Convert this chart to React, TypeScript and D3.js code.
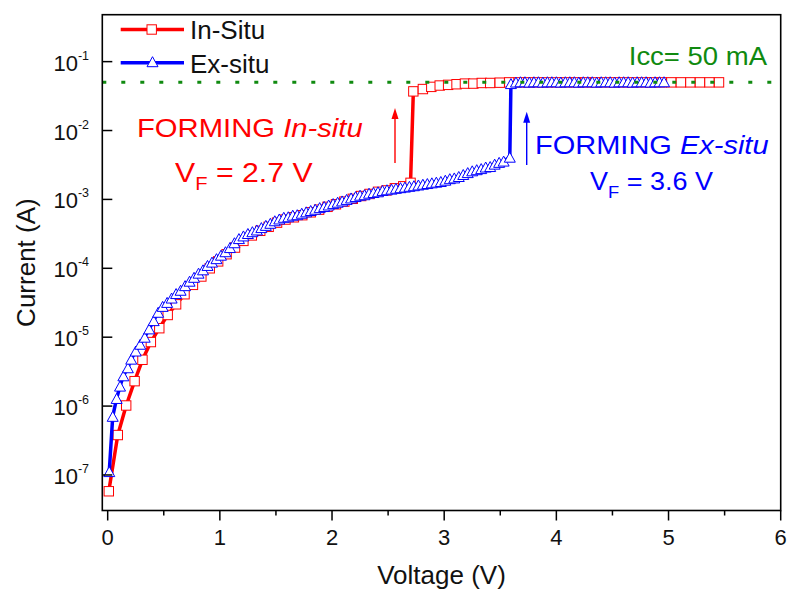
import React from "react";
import * as d3 from "d3";

// In-Situ sweep: [voltage (V), current (A)]
const inSitu: [number, number][] = [
  [0.01, 5.8e-8], [0.09, 3.8e-7], [0.165, 1.02e-6], [0.24, 2.3e-6], [0.31, 4.7e-6],
  [0.385, 8.5e-6], [0.46, 1.35e-5], [0.535, 2.1e-5], [0.61, 3.0e-5], [0.685, 4.2e-5],
  [0.76, 5.75e-5], [0.835, 7.6e-5], [0.91, 1.0e-4], [0.985, 1.26e-4], [1.06, 1.6e-4],
  [1.135, 2.0e-4], [1.21, 2.5e-4], [1.285, 3.0e-4], [1.36, 3.5e-4], [1.435, 4.0e-4],
  [1.51, 4.6e-4], [1.585, 5.1e-4], [1.66, 5.5e-4], [1.735, 5.9e-4], [1.81, 6.5e-4],
  [1.885, 7.1e-4], [1.96, 7.8e-4], [2.035, 8.5e-4], [2.11, 9.3e-4], [2.185, 1.02e-3],
  [2.26, 1.12e-3], [2.335, 1.2e-3], [2.41, 1.29e-3], [2.485, 1.35e-3], [2.56, 1.45e-3],
  [2.635, 1.55e-3], [2.70, 1.74e-3],
  [2.725, 0.037], [2.81, 0.040], [2.885, 0.043], [2.96, 0.045], [3.035, 0.046],
  [3.11, 0.047], [3.185, 0.048], [3.26, 0.048], [3.335, 0.049], [3.41, 0.049],
  [3.495, 0.0495], [3.58, 0.05], [3.665, 0.05], [3.75, 0.05], [3.835, 0.05],
  [3.92, 0.05], [4.005, 0.05], [4.09, 0.05], [4.175, 0.05], [4.26, 0.05],
  [4.345, 0.05], [4.43, 0.05], [4.515, 0.05], [4.6, 0.05], [4.685, 0.05],
  [4.77, 0.05], [4.855, 0.05], [4.94, 0.05], [5.025, 0.05], [5.11, 0.05],
  [5.195, 0.05], [5.28, 0.05], [5.365, 0.05], [5.45, 0.05],
];

// Ex-situ sweep: [voltage (V), current (A)]
const exSitu: [number, number][] = [
  [0.014, 1.12e-7], [0.045, 7.1e-7], [0.08, 1.29e-6], [0.11, 1.95e-6], [0.14, 2.75e-6],
  [0.18, 3.6e-6], [0.21, 4.8e-6], [0.25, 6.3e-6], [0.29, 7.9e-6], [0.33, 1.0e-5],
  [0.37, 1.32e-5],
  [0.41, 1.74e-5], [0.45, 2.3e-5], [0.49, 2.8e-5], [0.53, 3.2e-5], [0.57, 3.7e-5],
  [0.61, 4.3e-5], [0.65, 4.8e-5], [0.69, 5.6e-5], [0.73, 6.5e-5], [0.77, 7.4e-5],
  [0.81, 8.5e-5], [0.85, 9.5e-5], [0.89, 1.1e-4], [0.93, 1.23e-4], [0.97, 1.38e-4],
  [1.01, 1.55e-4], [1.05, 1.74e-4], [1.09, 2.0e-4], [1.13, 2.35e-4], [1.17, 2.7e-4],
  [1.21, 2.95e-4], [1.25, 3.2e-4], [1.29, 3.4e-4], [1.33, 3.6e-4], [1.37, 3.9e-4],
  [1.41, 4.2e-4], [1.45, 4.5e-4], [1.49, 4.9e-4], [1.53, 5.2e-4], [1.57, 5.5e-4],
  [1.61, 5.6e-4], [1.65, 5.9e-4], [1.69, 6.0e-4], [1.73, 6.3e-4], [1.77, 6.6e-4],
  [1.81, 6.9e-4], [1.85, 7.2e-4], [1.89, 7.6e-4], [1.93, 7.9e-4], [1.97, 8.3e-4],
  [2.01, 8.7e-4], [2.05, 9.1e-4], [2.09, 9.5e-4], [2.13, 1.0e-3], [2.17, 1.05e-3],
  [2.21, 1.1e-3], [2.25, 1.15e-3], [2.29, 1.17e-3], [2.33, 1.23e-3], [2.37, 1.26e-3],
  [2.41, 1.29e-3], [2.45, 1.35e-3], [2.49, 1.38e-3], [2.53, 1.41e-3], [2.57, 1.45e-3],
  [2.61, 1.48e-3], [2.65, 1.51e-3], [2.69, 1.55e-3], [2.73, 1.58e-3], [2.77, 1.62e-3],
  [2.81, 1.66e-3], [2.85, 1.7e-3], [2.89, 1.74e-3], [2.93, 1.78e-3], [2.97, 1.82e-3],
  [3.01, 1.9e-3], [3.05, 2.0e-3], [3.09, 2.05e-3], [3.13, 2.15e-3], [3.17, 2.3e-3],
  [3.21, 2.45e-3], [3.25, 2.6e-3], [3.29, 2.7e-3], [3.33, 2.8e-3], [3.37, 2.95e-3],
  [3.41, 3.0e-3], [3.45, 3.25e-3], [3.49, 3.45e-3], [3.53, 3.6e-3], [3.585, 4.1e-3],
  [3.595, 0.048],
  [3.64, 0.0505], [3.68, 0.051], [3.72, 0.051], [3.76, 0.0505], [3.80, 0.051],
  [3.84, 0.051], [3.88, 0.0505], [3.92, 0.051], [3.96, 0.051], [4.00, 0.051],
  [4.04, 0.0505], [4.08, 0.051], [4.12, 0.051], [4.16, 0.051], [4.20, 0.0505],
  [4.24, 0.051], [4.28, 0.051], [4.32, 0.051], [4.36, 0.0505], [4.40, 0.051],
  [4.44, 0.051], [4.48, 0.051], [4.52, 0.0505], [4.56, 0.051], [4.60, 0.051],
  [4.64, 0.051], [4.68, 0.0505], [4.72, 0.051], [4.76, 0.051], [4.80, 0.051],
  [4.84, 0.0505], [4.88, 0.051], [4.92, 0.051], [4.96, 0.051],
];

const xTickValues = [0, 1, 2, 3, 4, 5, 6];
const xMinorTickValues = [0.5, 1.5, 2.5, 3.5, 4.5, 5.5];
const yTickExponents = [-1, -2, -3, -4, -5, -6, -7];
const complianceCurrent = 0.05;
const seriesNames = ["In-Situ", "Ex-situ"];

const W = 788;
const H = 590;
const BOX = { left: 102.3, right: 780.7, top: 14.7, bottom: 510.5 };
const FONT = "'Liberation Sans', Arial, Helvetica, sans-serif";
const RED = "#ff0000";
const BLUE = "#0000ff";
const GREEN = "#108a10";

export default function App() {
  const x = d3.scaleLinear().domain([-0.048, 6]).range([BOX.left, BOX.right]);
  const y = d3.scaleLog().domain([3.05e-8, 0.48]).range([BOX.bottom, BOX.top]);
  const line = d3
    .line<[number, number]>()
    .x((d) => x(d[0]))
    .y((d) => y(d[1]));

  const SQ = 9.4;
  const TW = 11;
  const TH = 10;
  const tri = (cx: number, cy: number) =>
    `M${cx - TW / 2},${cy + TH / 2}L${cx + TW / 2},${cy + TH / 2}L${cx},${cy - TH / 2}Z`;

  const arrow = (ax: number, y0: number, y1: number, color: string) => (
    <g>
      <line x1={ax} y1={y0} x2={ax} y2={y1 + 9} stroke={color} strokeWidth={1.4} />
      <path d={`M${ax - 3.5},${y1 + 11}L${ax + 3.5},${y1 + 11}L${ax},${y1}Z`} fill={color} />
    </g>
  );

  return (
    <svg
      width={W}
      height={H}
      style={{ position: "absolute", left: 0, top: 0, background: "#fff" }}
      fontFamily={FONT}
    >
      <rect x={0} y={0} width={W} height={H} fill="#fff" />
      <defs>
        <clipPath id="plotClip">
          <rect x={BOX.left} y={BOX.top} width={BOX.right - BOX.left} height={BOX.bottom - BOX.top} />
        </clipPath>
      </defs>

      <g clipPath="url(#plotClip)">
        {/* In-Situ */}
        <path d={line(inSitu) || ""} fill="none" stroke={RED} strokeWidth={3.5} strokeLinejoin="round" />
        {inSitu.map((d, i) => (
          <rect
            key={"s" + i}
            x={x(d[0]) - SQ / 2}
            y={y(d[1]) - SQ / 2}
            width={SQ}
            height={SQ}
            fill="#fff"
            stroke={RED}
            strokeWidth={1}
          />
        ))}
        {/* Ex-situ */}
        <path d={line(exSitu) || ""} fill="none" stroke={BLUE} strokeWidth={3.5} strokeLinejoin="round" />
        {exSitu.map((d, i) => (
          <path key={"t" + i} d={tri(x(d[0]), y(d[1]))} fill="#fff" stroke={BLUE} strokeWidth={1} />
        ))}
        {/* compliance line */}
        <line
          x1={BOX.left}
          x2={BOX.right}
          y1={y(complianceCurrent)}
          y2={y(complianceCurrent)}
          stroke={GREEN}
          strokeWidth={3}
          strokeDasharray="4 15"
        />
      </g>

      {/* frame */}
      <rect
        x={BOX.left}
        y={BOX.top}
        width={BOX.right - BOX.left}
        height={BOX.bottom - BOX.top}
        fill="none"
        stroke="#000"
        strokeWidth={1.6}
      />

      {/* x ticks */}
      {xTickValues.map((v) => (
        <g key={"xt" + v}>
          <line x1={x(v)} x2={x(v)} y1={BOX.bottom} y2={BOX.bottom + 10} stroke="#000" strokeWidth={1.5} />
          <text x={x(v)} y={545} fontSize={22} textAnchor="middle" fill="#111">
            {v}
          </text>
        </g>
      ))}
      {xMinorTickValues.map((v) => (
        <line key={"xm" + v} x1={x(v)} x2={x(v)} y1={BOX.bottom} y2={BOX.bottom + 5} stroke="#000" strokeWidth={1.5} />
      ))}

      {/* y ticks */}
      {yTickExponents.map((e) => {
        const ty = y(Math.pow(10, e));
        return (
          <g key={"yt" + e}>
            <line x1={BOX.left} x2={BOX.left + 10} y1={ty} y2={ty} stroke="#000" strokeWidth={1.5} />
            <text x={89} y={ty + 9} fontSize={22} textAnchor="end" fill="#111">
              10
              <tspan dy={-11} fontSize={12.5}>
                {String(e)}
              </tspan>
            </text>
          </g>
        );
      })}

      {/* axis titles */}
      <text x={(BOX.left + BOX.right) / 2} y={584} fontSize={26} textAnchor="middle" fill="#111">
        Voltage (V)
      </text>
      <text
        transform={`translate(35,${(BOX.top + BOX.bottom) / 2}) rotate(-90)`}
        fontSize={26}
        textAnchor="middle"
        fill="#111"
      >
        Current (A)
      </text>

      {/* legend */}
      <g>
        <line x1={120.7} x2={184} y1={29.5} y2={29.5} stroke={RED} strokeWidth={3.5} />
        <rect x={151.7 - SQ / 2} y={29.5 - SQ / 2} width={SQ} height={SQ} fill="#fff" stroke={RED} strokeWidth={1} />
        <text x={190} y={39.3} fontSize={26} fill="#111">
          {seriesNames[0]}
        </text>
        <line x1={120.7} x2={184} y1={62.7} y2={62.7} stroke={BLUE} strokeWidth={3.5} />
        <path d={tri(152.5, 61.7)} fill="#fff" stroke={BLUE} strokeWidth={1} />
        <text x={190} y={72.7} fontSize={26} fill="#111">
          {seriesNames[1]}
        </text>
      </g>

      {/* compliance label */}
      <text transform="translate(767,65) scale(1.1,1)" fontSize={25} textAnchor="end" fill={GREEN}>
        Icc= 50 mA
      </text>

      {/* In-situ annotation */}
      <text transform="translate(137,136.7) scale(1.17,1)" fontSize={25} fill={RED}>
        FORMING <tspan fontStyle="italic">In-situ</tspan>
      </text>
      <text transform="translate(175,181.7) scale(1.12,1)" fontSize={27} fill={RED}>
        V<tspan dy={8} fontSize={18}>F</tspan>
        <tspan dy={-8}> = 2.7 V</tspan>
      </text>
      {arrow(395, 163, 108, RED)}

      {/* Ex-situ annotation */}
      <text transform="translate(535,154) scale(1.16,1)" fontSize={25} fill={BLUE}>
        FORMING <tspan fontStyle="italic">Ex-situ</tspan>
      </text>
      <text transform="translate(590,190) scale(1.08,1)" fontSize={25} fill={BLUE}>
        V<tspan dy={8} fontSize={17}>F</tspan>
        <tspan dy={-8}> = 3.6 V</tspan>
      </text>
      {arrow(526.7, 165, 111.7, BLUE)}
    </svg>
  );
}
